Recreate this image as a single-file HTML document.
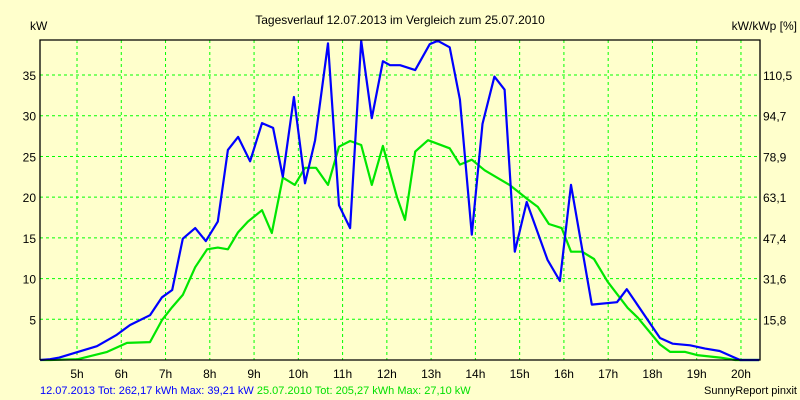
<!DOCTYPE html>
<html><head><meta charset="utf-8"><style>
html,body{margin:0;padding:0;background:#FFFFCC;}
svg{display:block;font-family:"Liberation Sans",sans-serif;}
</style></head><body>
<svg id="chart" width="800" height="400" xmlns="http://www.w3.org/2000/svg">
<rect x="0" y="0" width="800" height="400" fill="#FFFFCC"/>
<text x="400" y="24" text-anchor="middle" font-size="12" fill="#000">Tagesverlauf 12.07.2013 im Vergleich zum 25.07.2010</text>
<text x="30" y="30" font-size="12" fill="#000">kW</text>
<text x="797" y="30" text-anchor="end" font-size="12" fill="#000">kW/kWp [%]</text>
<g id="grid"></g>
<g id="series"></g>
<g id="axes"></g>
<text x="40" y="394" font-size="11"><tspan fill="#0000FF">12.07.2013 Tot: 262,17 kWh Max: 39,21 kW </tspan><tspan fill="#00E000">25.07.2010 Tot: 205,27 kWh Max: 27,10 kW</tspan></text>
<text x="797" y="394" text-anchor="end" font-size="11" fill="#000">SunnyReport pinxit</text>
</svg>
<script>
const hourTicks = [5,6,7,8,9,10,11,12,13,14,15,16,17,18,19,20];
const kwTicks = [5,10,15,20,25,30,35];
const pctLabels = ["15,8","31,6","47,4","63,1","78,9","94,7","110,5"];
const blueTimes = [4.17,4.39,4.6,5.02,5.45,5.90,6.20,6.65,6.92,7.15,7.39,7.67,7.91,8.18,8.41,8.64,8.91,9.18,9.43,9.65,9.90,10.15,10.38,10.67,10.92,11.17,11.42,11.66,11.91,12.07,12.30,12.64,12.97,13.15,13.42,13.65,13.92,14.16,14.43,14.66,14.89,15.16,15.63,15.91,16.16,16.63,17.20,17.42,18.17,18.46,18.85,19.19,19.52,19.81,19.98,20.41];
const blueValues = [0,0.1,0.3,1.0,1.7,3.1,4.3,5.5,7.7,8.6,14.9,16.2,14.6,17,25.8,27.4,24.4,29.1,28.5,22.5,32.3,21.7,27,38.9,19,16.2,39.2,29.7,36.7,36.2,36.2,35.6,38.8,39.2,38.4,32,15.4,29,34.8,33.2,13.3,19.4,12.3,9.7,21.5,6.8,7.1,8.7,2.7,2.0,1.8,1.4,1.1,0.4,0,0];
const greenTimes = [4.17,4.39,5.02,5.68,6.13,6.65,6.92,7.15,7.39,7.67,7.94,8.18,8.41,8.64,8.86,9.18,9.40,9.65,9.92,10.15,10.40,10.67,10.92,11.17,11.42,11.66,11.91,12.23,12.41,12.64,12.93,13.42,13.65,13.92,14.21,14.77,15.19,15.41,15.66,15.95,16.16,16.41,16.68,16.99,17.44,17.67,18.17,18.40,18.74,19.01,19.53,19.87,20.41];
const greenValues = [0,0,0.1,1.0,2.1,2.2,4.9,6.5,8,11.4,13.6,13.8,13.6,15.7,17,18.4,15.6,22.4,21.5,23.6,23.6,21.5,26.2,26.9,26.4,21.5,26.3,20,17.2,25.6,27,26,24,24.6,23.3,21.5,19.7,18.8,16.7,16.2,13.3,13.3,12.4,9.6,6.4,5.2,1.9,1.0,1.0,0.6,0.3,0,0];

const L=40,R=760,T=40,B=360;
const X0=4.164,X1=20.43,Y1=39.3;
const xs=h=>L+(h-X0)/(X1-X0)*(R-L);
const ys=v=>B-v/Y1*(B-T);
const NS="http://www.w3.org/2000/svg";
function mk(tag,parent){const e=document.createElementNS(NS,tag);parent.appendChild(e);return e;}
const grid=document.getElementById('grid'),axes=document.getElementById('axes'),series=document.getElementById('series');
hourTicks.forEach(h=>{
  const x=xs(h);
  const l=mk('line',grid);
  
  
  l.setAttribute('x1',x);l.setAttribute('x2',x);l.setAttribute('y1',T);l.setAttribute('y2',B);
  l.setAttribute('stroke','#00FF00');l.setAttribute('stroke-dasharray','3,3');
  const t=mk('text',axes);
  
  
  t.setAttribute('x',x);t.setAttribute('y',378);t.setAttribute('text-anchor','middle');t.setAttribute('font-size','12');
  t.textContent=h+'h';
});
kwTicks.forEach((v,i)=>{
  const y=ys(v);
  const l=mk('line',grid);
  
  
  l.setAttribute('x1',L);l.setAttribute('x2',R);l.setAttribute('y1',y);l.setAttribute('y2',y);
  l.setAttribute('stroke','#00FF00');l.setAttribute('stroke-dasharray','3,3');
  const t=mk('text',axes);
  
  
  t.setAttribute('x',36);t.setAttribute('y',y+5);t.setAttribute('text-anchor','end');t.setAttribute('font-size','12');
  t.textContent=v;
  const t2=mk('text',axes);
  
  
  t2.setAttribute('x',763);t2.setAttribute('y',y+5);t2.setAttribute('font-size','12');
  t2.textContent=pctLabels[i];
});
function line(times,vals,color,name){
  const p=mk('polyline',series);
  
  
  p.setAttribute('points',times.map((t,i)=>xs(t).toFixed(1)+','+ys(vals[i]).toFixed(1)).join(' '));
  p.setAttribute('fill','none');p.setAttribute('stroke',color);p.setAttribute('stroke-width','2.2');p.setAttribute('stroke-linejoin','round');
}
line(greenTimes,greenValues,'#00E600','series-2010');
line(blueTimes,blueValues,'#0000FF','series-2013');
const frame=mk('path',axes);


frame.setAttribute('d',`M${L},${B}V${T}H${R}V${B}H${L}`);
frame.setAttribute('fill','none');frame.setAttribute('stroke','#000');frame.setAttribute('stroke-width','1.3');
</script>
</body></html>
